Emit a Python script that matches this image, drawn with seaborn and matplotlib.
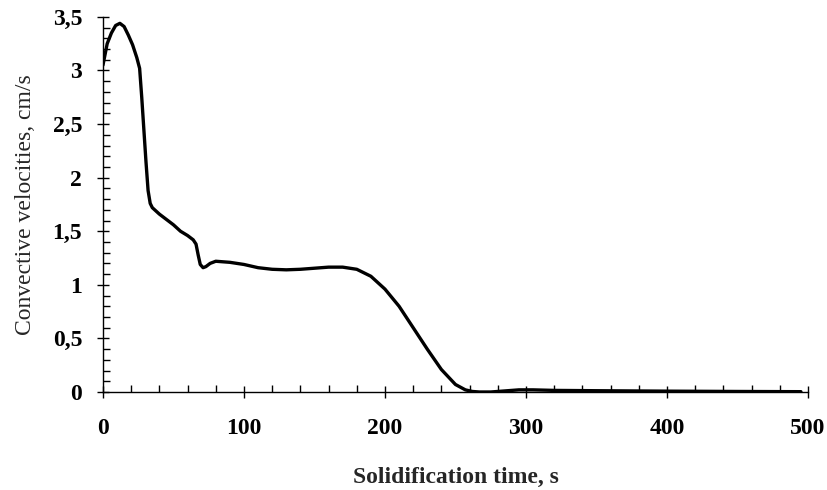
import matplotlib
matplotlib.use("Agg")
import matplotlib.pyplot as plt
import seaborn as sns
import pandas as pd
from matplotlib.ticker import MultipleLocator, FuncFormatter

time_s = [0, 3, 6, 9, 12, 15, 18, 21, 24, 26,
          27.5, 29, 30.5, 32, 33.5, 35, 40, 45, 50, 55,
          60, 64, 66, 67.5, 69, 71, 73, 76, 80, 90,
          100, 110, 120, 130, 140, 150, 160, 170, 180, 190,
          200, 210, 220, 230, 240, 250, 257, 262, 267, 275,
          285, 295, 305, 320, 350, 400, 450, 495]
velocity = [3.05, 3.25, 3.35, 3.42, 3.44, 3.41, 3.33, 3.24, 3.12, 3.02,
            2.75, 2.45, 2.15, 1.88, 1.76, 1.72, 1.66, 1.61, 1.56, 1.50,
            1.46, 1.42, 1.38, 1.28, 1.19, 1.16, 1.17, 1.20, 1.22, 1.21,
            1.19, 1.16, 1.145, 1.14, 1.145, 1.155, 1.165, 1.165, 1.145, 1.08,
            0.96, 0.80, 0.60, 0.40, 0.21, 0.07, 0.02, 0.005, 0.0, 0.0,
            0.01, 0.02, 0.02, 0.015, 0.012, 0.008, 0.005, 0.003]

df = pd.DataFrame({"t": time_s, "v": velocity})

sns.set_theme(style="ticks")
plt.rcParams["font.family"] = ["Liberation Serif", "DejaVu Serif"]

fig = plt.figure(figsize=(8.27, 4.90), dpi=100)
ax = fig.add_axes([0.1245, 0.2, 0.8525, 0.7655])

sns.lineplot(data=df, x="t", y="v", ax=ax, color="black", linewidth=2.4, sort=False)

ax.set_xlim(0, 500)
ax.set_ylim(0, 3.5)
ax.xaxis.set_major_locator(MultipleLocator(100))
ax.xaxis.set_minor_locator(MultipleLocator(20))
ax.yaxis.set_major_locator(MultipleLocator(0.5))
ax.yaxis.set_minor_locator(MultipleLocator(0.1))

def fmt(v, pos):
    return ("%g" % round(v, 2)).replace(".", ",")

ax.yaxis.set_major_formatter(FuncFormatter(fmt))
ax.xaxis.set_major_formatter(FuncFormatter(lambda v, p: "%d" % v))

sns.despine(ax=ax)
for sp in ["left", "bottom"]:
    ax.spines[sp].set_linewidth(1.0)
    ax.spines[sp].set_color("black")

ax.tick_params(which="major", direction="inout", length=8, width=1.0, colors="black",
               labelsize=17)
ax.tick_params(axis="y", which="major", pad=11)
ax.tick_params(axis="x", which="major", pad=15)
ax.tick_params(which="minor", direction="in", length=5, width=1.0, colors="black")
for lab in ax.get_xticklabels() + ax.get_yticklabels():
    lab.set_fontweight("bold")

ax.set_xlabel("Solidification time, s", fontsize=17, fontweight="bold", labelpad=20)
ax.set_ylabel("Convective velocities, cm/s", fontsize=17, labelpad=12)

fig.savefig("out.png", dpi=100)
